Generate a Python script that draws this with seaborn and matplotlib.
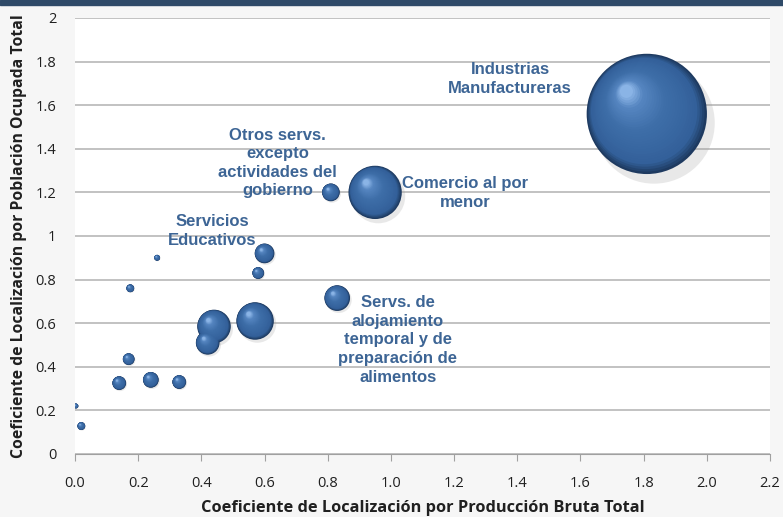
import numpy as np
import pandas as pd
import matplotlib
matplotlib.use('Agg')
import matplotlib.pyplot as plt
import seaborn as sns
from matplotlib.colors import LinearSegmentedColormap

# Datos
cl_produccion = [1.81, 0.95, 0.81, 0.83, 0.60, 0.58, 0.57, 0.44, 0.42,
                 0.26, 0.175, 0.17, 0.14, 0.24, 0.33, 0.003, 0.02]
cl_poblacion = [1.56, 1.20, 1.20, 0.715, 0.92, 0.83, 0.61, 0.585, 0.51,
                0.90, 0.76, 0.435, 0.325, 0.34, 0.33, 0.22, 0.128]
participacion = [37.2, 7.3, 0.81, 1.69, 1.0, 0.36, 3.61, 2.89, 1.44,
                 0.09, 0.16, 0.36, 0.49, 0.64, 0.49, 0.06, 0.16]
sector = ['Industrias\nManufactureras', 'Comercio al por\nmenor',
          'Otros servs.\nexcepto\nactividades del\ngobierno',
          'Servs. de\nalojamiento\ntemporal y de\npreparación de\nalimentos',
          'Servicios\nEducativos'] + [''] * 12
etiqueta_x = [1.377, 1.234, 0.642, 1.022, 0.434]
etiqueta_y = [1.72, 1.197, 1.335, 0.523, 1.023]

df = pd.DataFrame({'x': cl_produccion, 'y': cl_poblacion,
                   'p': participacion, 'sector': sector})

sns.set_style('white')
plt.rcParams['font.family'] = ['Open Sans', 'DejaVu Sans']

fig = plt.figure(figsize=(7.83, 5.17), dpi=100, facecolor='#f6f6f6')
ax = fig.add_axes([0.0958, 0.1219, 0.8876, 0.8433])
ax.set_facecolor('white')

# barra superior
fig.patches.append(plt.Rectangle((0, 0.991), 1, 0.009, transform=fig.transFigure,
                                 color='#2f4a68', zorder=5))

ax.set_xlim(0, 2.2)
ax.set_ylim(0, 2)
ax.set_xticks(np.arange(0, 2.21, 0.2))
ax.set_xticklabels([f'{v:.1f}' for v in np.arange(0, 2.21, 0.2)])
yt = np.arange(0, 2.01, 0.2)
ax.set_yticks(yt)
ax.set_yticklabels([f'{v:g}' for v in np.round(yt, 1)])
ax.yaxis.grid(True, color='#b8b8b8', lw=1.2)
ax.set_axisbelow(True)
for s in ['top', 'right', 'left']:
    ax.spines[s].set_visible(False)
ax.spines['bottom'].set_color('#a0a0a0')
ax.tick_params(axis='x', bottom=True, length=5, color='#a0a0a0', pad=11,
               labelsize=10.5, labelcolor='#202020')
ax.tick_params(axis='y', left=False, pad=10, labelsize=10.5, labelcolor='#202020')

smax = 7500
norm = (0, max(participacion))
fig.canvas.draw()
pts = ax.transData.transform(df[['x', 'y']].values)
r_px = np.sqrt(np.array(participacion) / norm[1] * smax) * 100 / 72 / 2

# sombra
sh_data = ax.transData.inverted().transform(pts + np.c_[r_px * 0.12, -r_px * 0.15])
sns.scatterplot(x=sh_data[:, 0], y=sh_data[:, 1], size=df['p'], sizes=(0, smax * 1.02),
                size_norm=norm, color='#9a9a9a', alpha=0.22, linewidth=0,
                legend=False, ax=ax, zorder=2)

# esfera con degradado
cmap = LinearSegmentedColormap.from_list('esfera', [(0, '#1e3a60'), (0.12, '#33609a'),
                                                    (0.55, '#3e6ea8'), (0.85, '#5585c0'),
                                                    (1, '#8ab4e6')])
n = 32
for k in range(n):
    f = 1 - k / n * 0.92
    off = np.c_[-r_px * (1 - f) * 0.38, r_px * (1 - f) * 0.42]
    cd = ax.transData.inverted().transform(pts + off)
    sns.scatterplot(x=cd[:, 0], y=cd[:, 1], size=df['p'], sizes=(0, smax * f * f),
                    size_norm=norm, color=cmap(k / (n - 1)), linewidth=0, legend=False,
                    ax=ax, zorder=3 + k * 0.01)

ax.set_xlabel('Coeficiente de Localización por Producción Bruta Total',
              fontsize=11.8, fontweight='bold', color='#202020', labelpad=6)
ax.set_ylabel('Coeficiente de Localización por Población Ocupada Total',
              fontsize=11.3, fontweight='bold', color='#202020', labelpad=6)

lab = dict(color='#3d6595', fontsize=12, fontweight='bold',
           family=['Liberation Sans', 'DejaVu Sans'], zorder=10, linespacing=1.3)
for i in range(len(etiqueta_x)):
    ax.text(etiqueta_x[i], etiqueta_y[i], sector[i], ha='center', va='center', **lab)

fig.savefig('out.png', dpi=100, facecolor=fig.get_facecolor())
